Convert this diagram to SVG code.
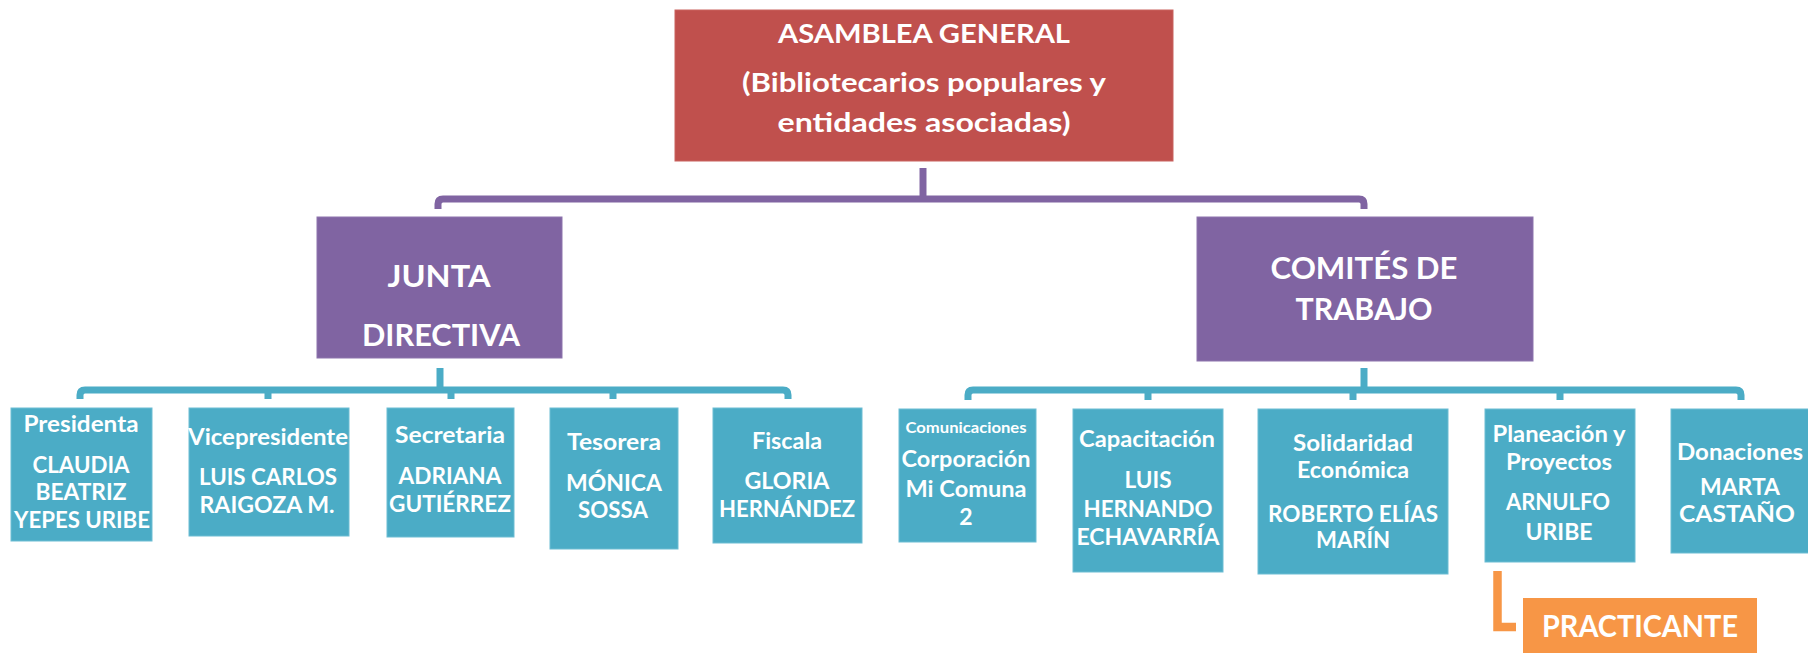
<svg xmlns="http://www.w3.org/2000/svg" width="1808" height="653" viewBox="0 0 1808 653">
<style>
  text { font-family: Lato, "Open Sans", "Liberation Sans", sans-serif; font-weight: bold; fill: #ffffff; text-anchor: middle; }
  .red { fill: #C0504D; stroke: #c9625f; stroke-width: 1; }
  .pur { fill: #8064A2; stroke: #8d74ad; stroke-width: 1; }
  .teal { fill: #4BACC6; stroke: #6cbdd3; stroke-width: 1; }
  .ora { fill: #F79646; }
  .h1 { font-size: 26px; }
  .h2 { font-size: 31px; }
  .t { font-size: 23px; }
  .s { font-size: 15px; }
  .cp { fill: none; stroke: #8064A2; stroke-width: 7; }
  .ct { fill: none; stroke: #4BACC6; stroke-width: 7; }
  .co { fill: none; stroke: #F79646; stroke-width: 8.5; }
</style>
<g id="connectors">
  <path class="cp" d="M923 168 V199"/>
  <path class="cp" d="M438 209 V204 Q438 199 443 199 H1359 Q1364 199 1364 204 V209"/>
  <path class="ct" d="M440 368 V390"/>
  <path class="ct" d="M80 399 V395 Q80 390 85 390 H783 Q788 390 788 395 V399"/>
  <path class="ct" d="M268 390 V399 M451 390 V399 M613 390 V399"/>
  <path class="ct" d="M1364 368 V390"/>
  <path class="ct" d="M968 400 V395 Q968 390 973 390 H1736 Q1741 390 1741 395 V400"/>
  <path class="ct" d="M1148 390 V400 M1353 390 V400 M1560 390 V400"/>
  <path class="co" d="M1497.5 571 V627 H1516"/>
</g>
<g id="asamblea">
  <rect class="red" x="675" y="10" width="498" height="151"/>
  <text class="h1" x="924" y="43" textLength="292" lengthAdjust="spacingAndGlyphs">ASAMBLEA GENERAL</text>
  <text class="h1" x="924" y="92" textLength="364" lengthAdjust="spacingAndGlyphs">(Bibliotecarios populares y</text>
  <text class="h1" x="924" y="132" textLength="293" lengthAdjust="spacingAndGlyphs">entidades asociadas)</text>
</g>
<g id="junta">
  <rect class="pur" x="317" y="217" width="245" height="141"/>
  <text class="h2" x="439" y="287" textLength="103" lengthAdjust="spacingAndGlyphs">JUNTA</text>
  <text class="h2" x="441" y="346" textLength="158" lengthAdjust="spacingAndGlyphs">DIRECTIVA</text>
</g>
<g id="comites">
  <rect class="pur" x="1197" y="217" width="336" height="144"/>
  <text class="h2" x="1364" y="279" textLength="187" lengthAdjust="spacingAndGlyphs">COMITÉS DE</text>
  <text class="h2" x="1364" y="320" textLength="137" lengthAdjust="spacingAndGlyphs">TRABAJO</text>
</g>
<g id="presidenta">
  <rect class="teal" x="11" y="408" width="141" height="133"/>
  <text class="t" x="81" y="432" textLength="115" lengthAdjust="spacingAndGlyphs">Presidenta</text>
  <text class="t" x="81" y="473" textLength="97" lengthAdjust="spacingAndGlyphs">CLAUDIA</text>
  <text class="t" x="81" y="500" textLength="91" lengthAdjust="spacingAndGlyphs">BEATRIZ</text>
  <text class="t" x="82" y="528" textLength="136" lengthAdjust="spacingAndGlyphs">YEPES URIBE</text>
</g>
<g id="vicepresidente">
  <rect class="teal" x="189" y="408" width="160" height="128"/>
  <text class="t" x="268" y="445" textLength="160" lengthAdjust="spacingAndGlyphs">Vicepresidente</text>
  <text class="t" x="268" y="485" textLength="138" lengthAdjust="spacingAndGlyphs">LUIS CARLOS</text>
  <text class="t" x="267" y="513" textLength="135" lengthAdjust="spacingAndGlyphs">RAIGOZA M.</text>
</g>
<g id="secretaria">
  <rect class="teal" x="387" y="408" width="127" height="129"/>
  <text class="t" x="450" y="443" textLength="110" lengthAdjust="spacingAndGlyphs">Secretaria</text>
  <text class="t" x="450" y="484" textLength="103" lengthAdjust="spacingAndGlyphs">ADRIANA</text>
  <text class="t" x="450" y="512" textLength="122" lengthAdjust="spacingAndGlyphs">GUTIÉRREZ</text>
</g>
<g id="tesorera">
  <rect class="teal" x="550" y="408" width="128" height="141"/>
  <text class="t" x="614" y="450" textLength="94" lengthAdjust="spacingAndGlyphs">Tesorera</text>
  <text class="t" x="614" y="491" textLength="96" lengthAdjust="spacingAndGlyphs">MÓNICA</text>
  <text class="t" x="613" y="518" textLength="70" lengthAdjust="spacingAndGlyphs">SOSSA</text>
</g>
<g id="fiscala">
  <rect class="teal" x="713" y="408" width="149" height="135"/>
  <text class="t" x="787" y="449" textLength="70" lengthAdjust="spacingAndGlyphs">Fiscala</text>
  <text class="t" x="787" y="489" textLength="85" lengthAdjust="spacingAndGlyphs">GLORIA</text>
  <text class="t" x="787" y="517" textLength="136" lengthAdjust="spacingAndGlyphs">HERNÁNDEZ</text>
</g>
<g id="comunicaciones">
  <rect class="teal" x="899" y="409" width="137" height="133"/>
  <text class="s" x="966" y="433" textLength="121" lengthAdjust="spacingAndGlyphs">Comunicaciones</text>
  <text class="t" x="966" y="467" textLength="129" lengthAdjust="spacingAndGlyphs">Corporación</text>
  <text class="t" x="966" y="497" textLength="121" lengthAdjust="spacingAndGlyphs">Mi Comuna</text>
  <text class="t" x="966" y="525">2</text>
</g>
<g id="capacitacion">
  <rect class="teal" x="1073" y="409" width="150" height="163"/>
  <text class="t" x="1147" y="447" textLength="136" lengthAdjust="spacingAndGlyphs">Capacitación</text>
  <text class="t" x="1148" y="488" textLength="47" lengthAdjust="spacingAndGlyphs">LUIS</text>
  <text class="t" x="1148" y="517" textLength="129" lengthAdjust="spacingAndGlyphs">HERNANDO</text>
  <text class="t" x="1148" y="545" textLength="143" lengthAdjust="spacingAndGlyphs">ECHAVARRÍA</text>
</g>
<g id="solidaridad">
  <rect class="teal" x="1258" y="409" width="190" height="165"/>
  <text class="t" x="1353" y="451" textLength="120" lengthAdjust="spacingAndGlyphs">Solidaridad</text>
  <text class="t" x="1353" y="478" textLength="112" lengthAdjust="spacingAndGlyphs">Económica</text>
  <text class="t" x="1353" y="522" textLength="170" lengthAdjust="spacingAndGlyphs">ROBERTO ELÍAS</text>
  <text class="t" x="1353" y="548" textLength="74" lengthAdjust="spacingAndGlyphs">MARÍN</text>
</g>
<g id="planeacion">
  <rect class="teal" x="1485" y="409" width="150" height="153"/>
  <text class="t" x="1559" y="442" textLength="133" lengthAdjust="spacingAndGlyphs">Planeación y</text>
  <text class="t" x="1559" y="470" textLength="106" lengthAdjust="spacingAndGlyphs">Proyectos</text>
  <text class="t" x="1558" y="510" textLength="104" lengthAdjust="spacingAndGlyphs">ARNULFO</text>
  <text class="t" x="1559" y="540" textLength="67" lengthAdjust="spacingAndGlyphs">URIBE</text>
</g>
<g id="donaciones">
  <rect class="teal" x="1671" y="409" width="140" height="144"/>
  <text class="t" x="1740" y="460" textLength="126" lengthAdjust="spacingAndGlyphs">Donaciones</text>
  <text class="t" x="1740" y="495" textLength="80" lengthAdjust="spacingAndGlyphs">MARTA</text>
  <text class="t" x="1737" y="522" textLength="116" lengthAdjust="spacingAndGlyphs">CASTAÑO</text>
</g>
<g id="practicante">
  <rect class="ora" x="1523" y="598" width="234" height="60"/>
  <text class="h2" x="1640" y="637" textLength="196" lengthAdjust="spacingAndGlyphs">PRACTICANTE</text>
</g>
</svg>
